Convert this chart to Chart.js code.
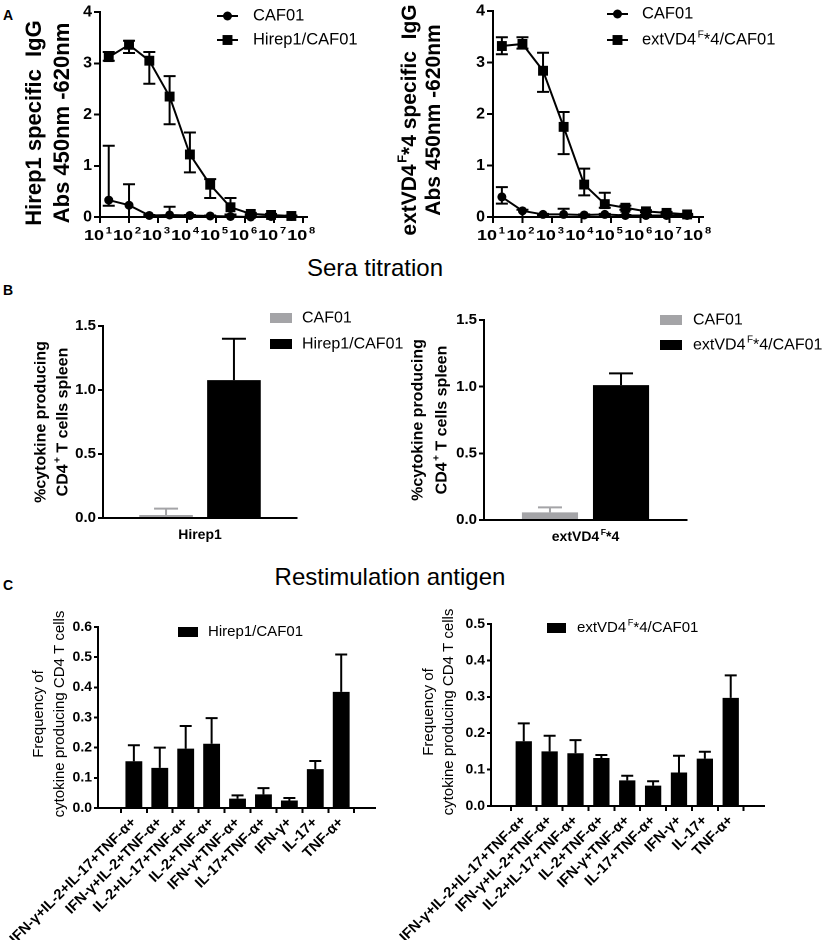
<!DOCTYPE html>
<html><head><meta charset="utf-8">
<script src="https://cdn.jsdelivr.net/npm/chart.js@4.4.1/dist/chart.umd.min.js"></script>
<style>
html,body{margin:0;padding:0;background:#fff;}
body{width:827px;height:940px;position:relative;overflow:hidden;font-family:"Liberation Sans",Arial,sans-serif;color:#000;}
canvas{position:absolute;}
.t{position:absolute;white-space:nowrap;line-height:1;}
.c{transform:translate(-50%,-50%);}
</style></head><body>
<div class="t" style="left:3px;top:8px;font-weight:bold;font-size:14px">A</div>
<div class="t" style="left:3px;top:283px;font-weight:bold;font-size:14px">B</div>
<div class="t" style="left:3px;top:578px;font-weight:bold;font-size:14px">C</div>
<div class="t c" style="left:375px;top:268px;font-size:24px">Sera titration</div>
<div class="t c" style="left:390px;top:577px;font-size:24px">Restimulation antigen</div>

<canvas id="a1" width="400" height="260" style="left:0;top:0;width:400px;height:260px"></canvas>
<canvas id="a2" width="437" height="260" style="left:390px;top:0;width:437px;height:260px"></canvas>
<canvas id="b1" width="420" height="260" style="left:0;top:300px;width:420px;height:260px"></canvas>
<canvas id="b2" width="427" height="260" style="left:400px;top:300px;width:427px;height:260px"></canvas>
<canvas id="c1" width="400" height="350" style="left:0;top:590px;width:400px;height:350px"></canvas>
<canvas id="c2" width="447" height="350" style="left:380px;top:590px;width:447px;height:350px"></canvas>

<script>
const FONT = '"Liberation Sans", Arial, Helvetica, sans-serif';

// ---------------- Panel A data (ELISA titration) ----------------
const dilutions = [20, 100, 500, 2500, 12500, 62500, 312500, 1562500, 7812500, 39062500];
const decadeTicks = [1e1, 1e2, 1e3, 1e4, 1e5, 1e6, 1e7, 1e8];
const decadeExponents = ['1', '2', '3', '4', '5', '6', '7', '8'];

const a1Caf01   = [0.33, 0.23, 0.03, 0.04, 0.03, 0.02, 0.01, 0.00, 0.01, 0.01];
const a1Caf01Hi = [1.39, 0.64, 0.04, 0.20, 0.04, 0.03, 0.02, 0.01, 0.02, 0.02];
const a1Caf01Lo = [0.22, 0.00, 0.02, 0.00, 0.02, 0.01, 0.00, 0.00, 0.00, 0.00];
const a1Hirep1   = [3.12, 3.36, 3.05, 2.35, 1.22, 0.63, 0.19, 0.06, 0.04, 0.02];
const a1Hirep1Hi = [3.22, 3.44, 3.22, 2.75, 1.65, 0.74, 0.37, 0.08, 0.06, 0.03];
const a1Hirep1Lo = [3.05, 3.20, 2.60, 1.81, 0.87, 0.37, 0.05, 0.04, 0.02, 0.01];

const a2Caf01   = [0.39, 0.12, 0.05, 0.05, 0.04, 0.05, 0.03, 0.03, 0.03, 0.03];
const a2Caf01Hi = [0.58, 0.14, 0.06, 0.16, 0.05, 0.06, 0.04, 0.04, 0.04, 0.04];
const a2Caf01Lo = [0.26, 0.00, 0.04, 0.00, 0.03, 0.04, 0.02, 0.02, 0.02, 0.02];
const a2Ext   = [3.32, 3.36, 2.84, 1.75, 0.63, 0.25, 0.18, 0.11, 0.08, 0.05];
const a2ExtHi = [3.49, 3.49, 3.19, 2.04, 0.94, 0.47, 0.22, 0.13, 0.10, 0.06];
const a2ExtLo = [3.16, 3.27, 2.43, 1.22, 0.42, 0.18, 0.14, 0.09, 0.06, 0.04];

// ---------------- Panel B data (restimulation) ----------------
const b1Category = ['Hirep1'];
const b1Caf01 = [0.023];  const b1Caf01Err = [0.073];
const b1Hirep1 = [1.077]; const b1Hirep1Err = [1.40];
const b2Category = ['extVD4F*4'];
const b2Caf01 = [0.057];  const b2Caf01Err = [0.095];
const b2Ext = [1.012];    const b2ExtErr = [1.10];

// ---------------- Panel C data (cytokine profiles) ----------------
const cytokineCategories = ['IFN-γ+IL-2+IL-17+TNF-α+', 'IFN-γ+IL-2+TNF-α+', 'IL-2+IL-17+TNF-α+',
  'IL-2+TNF-α+', 'IFN-γ+TNF-α+', 'IL-17+TNF-α+', 'IFN-γ+', 'IL-17+', 'TNF-α+'];
const c1Hirep1    = [0.155, 0.133, 0.197, 0.213, 0.031, 0.045, 0.025, 0.129, 0.385];
const c1Hirep1Err = [0.208, 0.200, 0.272, 0.298, 0.042, 0.066, 0.033, 0.156, 0.509];
const c2Ext    = [0.178, 0.150, 0.145, 0.132, 0.0705, 0.056, 0.092, 0.130, 0.297];
const c2ExtErr = [0.227, 0.193, 0.181, 0.140, 0.083, 0.068, 0.138, 0.149, 0.359];

// rich text versions (superscripts)
const extName = [['extVD4'], ['F', 1], ['*4/CAF01']];
const extShort = [['extVD4'], ['F', 1], ['*4']];

const GRAY = '#a4a4a7';
Chart.defaults.font.family = FONT;
Chart.defaults.color = '#000';

function setFont(ctx, size, weight) { ctx.font = weight + ' ' + size + 'px ' + FONT; }
function richWidth(ctx, segs, size, weight) {
  let w = 0;
  segs.forEach(([t, s]) => { setFont(ctx, s ? size * 0.62 : size, weight); w += ctx.measureText(t).width + (s ? 1.5 : 0); });
  return w;
}
function drawRich(ctx, segs, x, y, size, weight, align, rot, sx) {
  ctx.save(); ctx.translate(x, y); if (rot) ctx.rotate(rot); if (sx) ctx.scale(sx, 1);
  ctx.fillStyle = '#000'; ctx.textBaseline = 'middle'; ctx.textAlign = 'left';
  const w = richWidth(ctx, segs, size, weight);
  let cx = align === 'center' ? -w / 2 : (align === 'right' ? -w : 0);
  segs.forEach(([t, s]) => {
    const fs = s ? size * 0.62 : size;
    setFont(ctx, fs, weight);
    if (s) cx += 1.5;
    ctx.fillText(t, cx, s ? -size * 0.33 : 0);
    cx += ctx.measureText(t).width;
  });
  ctx.restore();
}

function deco(o) {
  return { id: 'deco', afterDraw(chart) {
    const ctx = chart.ctx;
    if (o.yTitle) {
      const t = o.yTitle;
      t.lines.forEach((segs, i) => drawRich(ctx, segs, t.xs[i], t.cy, t.size, t.weight, 'center', -Math.PI / 2));
    }
    if (o.legend) {
      const L = o.legend;
      L.items.forEach((segs, i) => {
        const ds = chart.data.datasets[i];
        const y = L.ys[i];
        ctx.save();
        if (L.type === 'line') {
          ctx.strokeStyle = '#000'; ctx.lineWidth = 2;
          ctx.beginPath(); ctx.moveTo(L.x0, y); ctx.lineTo(L.x1, y); ctx.stroke();
          const cx = (L.x0 + L.x1) / 2;
          ctx.fillStyle = '#000';
          if (ds.pointStyle === 'rect') {
            const h = ds.pointRadius * Math.SQRT1_2;
            ctx.fillRect(cx - h, y - h, 2 * h, 2 * h);
          } else {
            ctx.beginPath(); ctx.arc(cx, y, ds.pointRadius, 0, Math.PI * 2); ctx.fill();
          }
        } else {
          ctx.fillStyle = ds.backgroundColor;
          ctx.fillRect(L.x0, y - L.bh / 2, L.x1 - L.x0, L.bh);
        }
        ctx.restore();
        drawRich(ctx, segs, L.tx, y, L.size, 'normal', 'left');
      });
    }
    if (o.after) o.after(chart, ctx);
  }};
}

function errorBars(specs, phase) {
  const fn = function (chart) {
    const ctx = chart.ctx, ys = chart.scales.y;
    specs.forEach(s => {
      const meta = chart.getDatasetMeta(s.ds);
      ctx.save(); ctx.strokeStyle = s.color || '#000'; ctx.lineWidth = 2;
      meta.data.forEach((el, i) => {
        const x = el.x, yH = ys.getPixelForValue(s.hi[i]);
        const yL = s.lo ? ys.getPixelForValue(s.lo[i]) : el.y;
        ctx.beginPath();
        ctx.moveTo(x, yL); ctx.lineTo(x, yH);
        ctx.moveTo(x - s.cap / 2, yH); ctx.lineTo(x + s.cap / 2, yH);
        if (s.lo) { ctx.moveTo(x - s.cap / 2, yL); ctx.lineTo(x + s.cap / 2, yL); }
        ctx.stroke();
      });
      ctx.restore();
    });
  };
  const p = { id: 'err' };
  p[phase] = fn;
  return p;
}

function yAxis(max, step, width, fontSize, tickLen, fmt) {
  return {
    min: 0, max: max,
    ticks: { stepSize: step, color: '#000', padding: 2, font: { family: FONT, size: fontSize, weight: 'bold' }, callback: fmt },
    grid: { display: true, drawOnChartArea: false, drawTicks: true, tickLength: tickLen, color: '#000', lineWidth: 2 },
    border: { display: true, color: '#000', width: 2 },
    afterFit(s) { s.width = width; s.paddingTop = 0; s.paddingBottom = 0; }
  };
}

// ---------------- Panel A charts ----------------
function lineChart(id, pad, yW, series, hiLo, title, legendItems, legendPos) {
  const xAxis = {
    type: 'logarithmic', min: 10, max: 1.35e8,
    afterBuildTicks(s) { s.ticks = decadeTicks.map(v => ({ value: v })); },
    ticks: { display: false },
    grid: { display: true, drawOnChartArea: false, drawTicks: true, tickLength: 6, color: '#000', lineWidth: 2 },
    border: { display: true, color: '#000', width: 2 },
    afterFit(s) { s.height = 43; s.paddingLeft = 0; s.paddingRight = 0; }
  };
  return new Chart(document.getElementById(id), {
    type: 'line',
    data: { datasets: series.map(s => ({
      label: s.label, data: dilutions.map((d, i) => ({ x: d, y: s.values[i] })),
      borderColor: '#000', backgroundColor: '#000', borderWidth: 2, tension: 0, clip: false,
      pointStyle: s.style, pointRadius: s.style === 'rect' ? 7 : 4.5, pointBackgroundColor: '#000', pointBorderWidth: 0
    })) },
    options: {
      responsive: false, animation: false, devicePixelRatio: 2,
      layout: { padding: pad },
      plugins: { legend: { display: false }, tooltip: { enabled: false } },
      scales: { x: xAxis, y: yAxis(4, 1, yW, 16, 6, v => String(v)) }
    },
    plugins: [
      errorBars(hiLo.map((h, i) => ({ ds: i, hi: h[0], lo: h[1], cap: 12 })), 'beforeDatasetsDraw'),
      deco({
        yTitle: title,
        legend: Object.assign({ type: 'line', items: legendItems, size: 16.5 }, legendPos),
        after(chart, ctx) {
          const xs = chart.scales.x;
          decadeTicks.forEach((v, i) => drawRich(ctx, [['10'], [decadeExponents[i], 1]], xs.getPixelForValue(v) - 2, 236, 15, 'bold', 'center', 0, 1.2));
        }
      })
    ]
  });
}

lineChart('a1', { top: 12, right: 93, left: 0, bottom: 0 }, 100,
  [{ label: 'CAF01', values: a1Caf01, style: 'circle' }, { label: 'Hirep1/CAF01', values: a1Hirep1, style: 'rect' }],
  [[a1Caf01Hi, a1Caf01Lo], [a1Hirep1Hi, a1Hirep1Lo]],
  { lines: [[['Hirep1 specific  IgG']], [['Abs 450nm -620nm']]], xs: [35, 63], cy: 123, size: 22, weight: 'bold' },
  [[['CAF01']], [['Hirep1/CAF01']]],
  { x0: 217, x1: 238, tx: 253, ys: [16, 40] });

lineChart('a2', { top: 11, right: 124, left: 0, bottom: 0 }, 103,
  [{ label: 'CAF01', values: a2Caf01, style: 'circle' }, { label: 'extVD4F*4/CAF01', values: a2Ext, style: 'rect' }],
  [[a2Caf01Hi, a2Caf01Lo], [a2ExtHi, a2ExtLo]],
  { lines: [[['extVD4'], ['F', 1], ['*4 specific  IgG']], [['Abs 450nm -620nm']]], xs: [20, 44], cy: 120, size: 21, weight: 'bold' },
  [[['CAF01']], extName],
  { x0: 217, x1: 238, tx: 252, ys: [14, 40] });

// ---------------- Panel B charts ----------------
function barPairChart(id, pad, yW, xH, cats, catRich, catY, vals, errs, names, title, legendPos) {
  return new Chart(document.getElementById(id), {
    type: 'bar',
    data: { labels: cats, datasets: [
      { label: 'CAF01', data: vals[0], backgroundColor: GRAY, borderWidth: 0, categoryPercentage: 0.70, barPercentage: 0.79 },
      { label: names[1], data: vals[1], backgroundColor: '#000', borderWidth: 0, categoryPercentage: 0.70, barPercentage: 0.79 }
    ] },
    options: {
      responsive: false, animation: false, devicePixelRatio: 2,
      layout: { padding: pad },
      plugins: { legend: { display: false }, tooltip: { enabled: false } },
      scales: {
        x: { type: 'category', ticks: { display: false }, grid: { display: false },
             border: { display: true, color: '#000', width: 2 },
             afterFit(s) { s.height = xH; s.paddingLeft = 0; s.paddingRight = 0; } },
        y: yAxis(1.5, 0.5, yW, 15, 5, v => Number(v).toFixed(1))
      }
    },
    plugins: [
      errorBars([{ ds: 0, hi: errs[0], cap: 24, color: GRAY }, { ds: 1, hi: errs[1], cap: 24 }], 'afterDatasetsDraw'),
      deco({
        yTitle: title,
        legend: Object.assign({ type: 'box', items: [[['CAF01']], catRich.legend], size: 16, bh: 10 }, legendPos),
        after(chart, ctx) {
          const xs = chart.scales.x;
          drawRich(ctx, catRich.tick, xs.getPixelForValue(0), catY, 14, 'bold', 'center');
        }
      })
    ]
  });
}

const bTitle = (xs, cy) => ({ lines: [[['%cytokine producing']], [['CD4'], ['+', 1], [' T cells spleen']]], xs: xs, cy: cy, size: 16, weight: 'bold' });

barPairChart('b1', { top: 26, right: 123, left: 0, bottom: 0 }, 103, 42, b1Category,
  { tick: [[b1Category[0]]], legend: [['Hirep1/CAF01']] }, 235,
  [b1Caf01, b1Hirep1], [b1Caf01Err, b1Hirep1Err], ['CAF01', 'Hirep1/CAF01'],
  bTitle([41, 63], 122), { x0: 270, x1: 292, tx: 302, ys: [18, 44] });

barPairChart('b2', { top: 20, right: 140, left: 0, bottom: 0 }, 84, 40, b2Category,
  { tick: extShort, legend: extName }, 237,
  [b2Caf01, b2Ext], [b2Caf01Err, b2ExtErr], ['CAF01', 'extVD4F*4/CAF01'],
  bTitle([18, 42], 120), { x0: 260, x1: 282, tx: 293, ys: [20, 45] });

// ---------------- Panel C charts ----------------
function cytoChart(id, pad, yW, xH, xMin, xMax, yMax, barPct, vals, errs, name, legendSegs, title, legendPos) {
  return new Chart(document.getElementById(id), {
    type: 'bar',
    data: { datasets: [{ label: name, data: cytokineCategories.map((c, i) => ({ x: i + 1, y: vals[i] })),
      backgroundColor: '#000', borderWidth: 0, categoryPercentage: 1, barPercentage: barPct }] },
    options: {
      responsive: false, animation: false, devicePixelRatio: 2,
      layout: { padding: pad },
      plugins: { legend: { display: false }, tooltip: { enabled: false } },
      scales: {
        x: { type: 'linear', min: xMin, max: xMax,
             afterBuildTicks(s) { s.ticks = cytokineCategories.map((c, i) => ({ value: i + 1 })); },
             ticks: { autoSkip: false, minRotation: 45, maxRotation: 45, padding: 1, color: '#000',
                      font: { family: FONT, size: 14.5, weight: 'bold' },
                      callback: v => cytokineCategories[Math.round(v) - 1] },
             grid: { display: true, drawOnChartArea: false, drawTicks: true, tickLength: 5, color: '#000', lineWidth: 2 },
             border: { display: true, color: '#000', width: 2 },
             afterFit(s) { s.height = xH; s.paddingLeft = 0; s.paddingRight = 0; } },
        y: yAxis(yMax, 0.1, yW, 14, 4, v => Number(v).toFixed(1))
      }
    },
    plugins: [
      errorBars([{ ds: 0, hi: errs, cap: 12 }], 'afterDatasetsDraw'),
      deco({ yTitle: title, legend: Object.assign({ type: 'box', items: [legendSegs], size: 15, bh: 10 }, legendPos) })
    ]
  });
}

const cTitle = (xs, cy) => ({ lines: [[['Frequency of']], [['cytokine producing CD4 T cells']]], xs: xs, cy: cy, size: 15, weight: 'normal' });

cytoChart('c1', { top: 37, right: 25, left: 0, bottom: 0 }, 98, 132, 0.21, 9.71, 0.6, 0.65,
  c1Hirep1, c1Hirep1Err, 'Hirep1/CAF01', [['Hirep1/CAF01']],
  cTitle([39, 60], 124), { x0: 178, x1: 198, tx: 208, ys: [42] });

cytoChart('c2', { top: 34, right: 63, left: 0, bottom: 0 }, 111, 134, 0.32, 9.70, 0.5, 0.63,
  c2Ext, c2ExtErr, 'extVD4F*4/CAF01', extName,
  cTitle([49, 69], 122), { x0: 167, x1: 186, tx: 197, ys: [38] });
</script>
</body></html>
